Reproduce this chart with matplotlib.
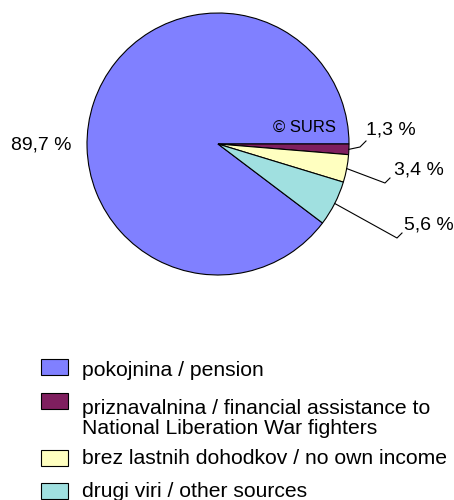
import numpy as np
import matplotlib.pyplot as plt
from matplotlib.patches import Rectangle

plt.rcParams['font.family'] = ['Liberation Sans', 'DejaVu Sans']

labels = ["pokojnina / pension",
          "priznavalnina / financial assistance to\nNational Liberation War fighters",
          "brez lastnih dohodkov / no own income",
          "drugi viri / other sources"]
shares = [89.7, 1.3, 3.4, 5.6]
pct_text = ["89,7 %", "1,3 %", "3,4 %", "5,6 %"]
colors = ["#8080FF", "#7F1F5F", "#FFFFC0", "#A0E0E0"]

W, H = 454, 500
fig = plt.figure(figsize=(W / 100, H / 100), dpi=100)
ax = fig.add_axes([0, 0, 1, 1])
ax.set_xlim(0, W)
ax.set_ylim(0, H)
ax.set_aspect('equal')
ax.axis('off')

cx, cy, r = 218, H - 144, 131
wedges, _ = ax.pie(shares, colors=colors, startangle=360 * shares[0] / 100,
                   counterclock=False, center=(cx, cy), radius=r,
                   wedgeprops=dict(edgecolor='black', linewidth=0.8))
ax.set_xlim(0, W)
ax.set_ylim(0, H)

fs = 14
# small slices: leader lines from wedge edge -> elbow -> label
elbows = {1: [(360, 147), (366, 141)], 2: [(385, 183), (390, 178)], 3: [(397, 238), (402, 233)]}
label_pos = {0: (11, 145), 1: (366, 130), 2: (394, 170), 3: (404, 225)}
for i, w in enumerate(wedges):
    x, y = label_pos[i]
    ax.text(x, H - y, pct_text[i], fontsize=fs, ha='left', va='center')
    if i in elbows:
        ang = np.deg2rad((w.theta1 + w.theta2) / 2)
        xs = [cx + r * np.cos(ang)] + [p[0] for p in elbows[i]]
        ys = [cy + r * np.sin(ang)] + [H - p[1] for p in elbows[i]]
        ax.plot(xs, ys, color='black', lw=0.8)

ax.text(304, H - 127, "© SURS", fontsize=12, ha='center', va='center')

# legend drawn by hand (baseline = last line of the label)
box_top = [359, 393, 450, 483]
text_base = [376, 434, 464, 497]
for i in range(len(labels)):
    ax.add_patch(Rectangle((41, H - box_top[i] - 16), 27, 16, facecolor=colors[i],
                           edgecolor='black', lw=0.8))
    ax.text(82, H - text_base[i], labels[i], fontsize=15.2, ha='left', va='baseline',
            linespacing=1.05)

fig.savefig("out.png", dpi=100)
